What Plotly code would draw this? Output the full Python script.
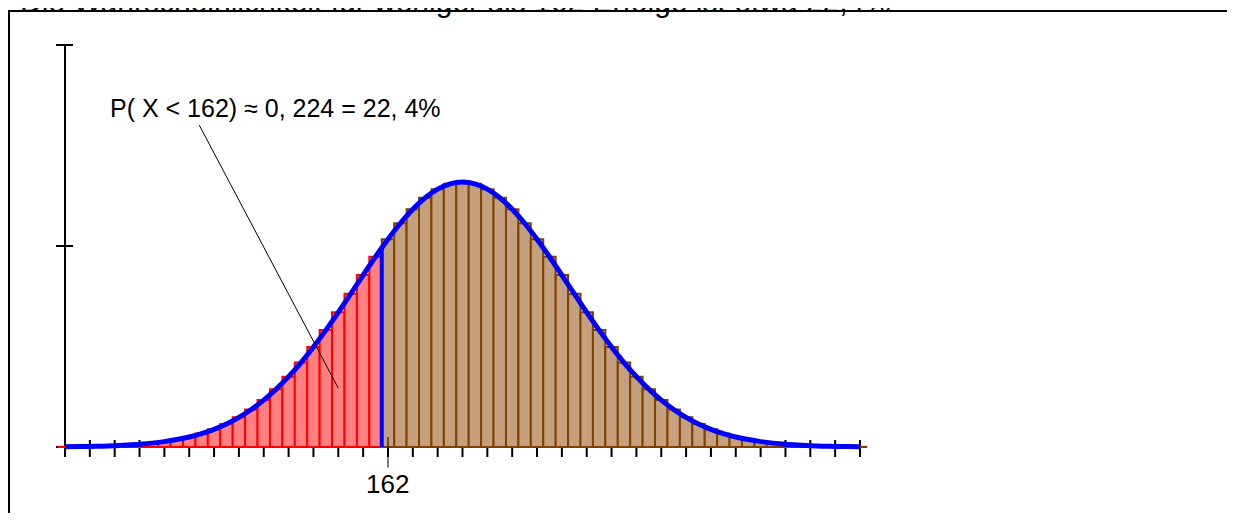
import plotly.graph_objects as go

# ---------------- data ----------------
k_values = list(range(136, 201))
probabilities = [
    0.00004, 0.00007, 0.00010, 0.00015, 0.00023, 0.00034, 0.00048, 0.00068,
    0.00094, 0.00130, 0.00176, 0.00235, 0.00310, 0.00404, 0.00519, 0.00657,
    0.00821, 0.01013, 0.01232, 0.01479, 0.01752, 0.02047, 0.02359, 0.02683,
    0.03010, 0.03331, 0.03637, 0.03918, 0.04164, 0.04366, 0.04516, 0.04609,
    0.04640, 0.04609, 0.04516, 0.04366, 0.04164, 0.03918, 0.03637, 0.03331,
    0.03010, 0.02683, 0.02359, 0.02047, 0.01752, 0.01479, 0.01232, 0.01013,
    0.00821, 0.00657, 0.00519, 0.00404, 0.00310, 0.00235, 0.00176, 0.00130,
    0.00094, 0.00068, 0.00048, 0.00034, 0.00023, 0.00015, 0.00010, 0.00007,
    0.00004,
]
split_k = 162
curve_at_split = 0.0349
x_ticks = list(range(136, 201, 2))
y_ticks = [0.0352, 0.0704]
title_text = "Die Wahrscheinlichkeit für weniger als 162 Erfolge ist etwa 22,4%"
formula_text = "P( X < 162) ≈ 0, 224 = 22, 4%"
formula_pointer = (158.0, 0.0103)
formula_line_start = (146.8, 0.0564)

# ---------------- layout geometry ----------------
OFF = 8                       # page body margin
W, H = 1235 - OFF, 505
ORIGIN_X, ORIGIN_Y = 65 - OFF, 447 - OFF      # pixel of (136, 0)
px_per_x = 795 / 64          # 136..200 spans 795 px
px_per_y = 402 / 0.0704      # 0..0.0704 spans 402 px
ML, MT = 32, 22
PLOT_RIGHT, PLOT_BOTTOM = 877, 462
MR, MB = W - PLOT_RIGHT, H - PLOT_BOTTOM
PW, PH = PLOT_RIGHT - ML, PLOT_BOTTOM - MT
x_min = 136 - (ORIGIN_X - ML) / px_per_x
x_max = x_min + PW / px_per_x
y_min = -(PLOT_BOTTOM - ORIGIN_Y) / px_per_y
y_max = y_min + PH / px_per_y

def paper_x(px):
    return (px - OFF - ML) / PW

def paper_y(py):
    return (PLOT_BOTTOM - (py - OFF)) / PH

def data_x(px):
    return 136 + (px - OFF - ORIGIN_X) / px_per_x

def data_y(py):
    return (ORIGIN_Y - (py - OFF)) / px_per_y

FONT = "Liberation Sans, Arial, sans-serif"

red_k = [k for k in k_values if k < split_k]
red_p = [p for k, p in zip(k_values, probabilities) if k < split_k]
brown_k = [k for k in k_values if k >= split_k]
brown_p = [p for k, p in zip(k_values, probabilities) if k >= split_k]

fig = go.Figure()
fig.add_trace(go.Bar(x=red_k, y=red_p, width=1,
                     marker=dict(color="#ff8080", line=dict(color="#ff0000", width=2)),
                     hoverinfo="skip"))
fig.add_trace(go.Bar(x=brown_k, y=brown_p, width=1,
                     marker=dict(color="#c4a07e", line=dict(color="#804000", width=2)),
                     hoverinfo="skip"))
fig.add_trace(go.Scatter(x=k_values, y=probabilities, mode="lines",
                         line=dict(color="#0000ff", width=5, shape="spline"),
                         hoverinfo="skip"))
fig.add_trace(go.Scatter(x=[split_k - 0.5, split_k - 0.5], y=[0, curve_at_split],
                         mode="lines", line=dict(color="#0000ff", width=4),
                         hoverinfo="skip"))

shapes = []
# x axis line
shapes.append(dict(type="line", xref="x", yref="y", x0=136, x1=200, y0=0, y1=0,
                   line=dict(color="black", width=2), layer="below"))
shapes.append(dict(type="line", xref="x", yref="y", xsizemode="pixel", xanchor=136,
                   x0=-9, x1=0, y0=0, y1=0, line=dict(color="black", width=2), layer="below"))
# y axis line
shapes.append(dict(type="line", xref="x", yref="y", x0=136, x1=136,
                   y0=-10 / px_per_y, y1=y_ticks[-1],
                   line=dict(color="black", width=2), layer="below"))
for t in x_ticks:
    shapes.append(dict(type="line", xref="x", yref="y", ysizemode="pixel", yanchor=0,
                       x0=t, x1=t, y0=-10, y1=7, line=dict(color="black", width=2),
                       layer="below"))
for t in y_ticks:
    shapes.append(dict(type="line", xref="x", yref="y", xsizemode="pixel", xanchor=136,
                       x0=-9, x1=8, y0=t, y1=t, line=dict(color="black", width=2),
                       layer="below"))
# pointer line of the formula
shapes.append(dict(type="line", xref="x", yref="y",
                   x0=formula_line_start[0], y0=formula_line_start[1],
                   x1=formula_pointer[0], y1=formula_pointer[1],
                   line=dict(color="black", width=1)))
# frame
shapes.append(dict(type="rect", xref="paper", yref="paper",
                   x0=paper_x(9), x1=paper_x(1300), y0=paper_y(11), y1=paper_y(600),
                   line=dict(color="black", width=2), fillcolor="rgba(0,0,0,0)"))

annotations = [
    dict(text=title_text, xref="paper", yref="paper", x=paper_x(18), y=paper_y(2),
         xanchor="left", yanchor="middle", showarrow=False,
         font=dict(family=FONT, size=30, color="black")),
    dict(text=formula_text, xref="x", yref="y",
         x=data_x(108), y=data_y(108),
         xanchor="left", yanchor="middle", showarrow=False,
         font=dict(family=FONT, size=25, color="black")),
    dict(text=str(split_k), xref="x", yref="y", x=split_k, y=0, yshift=10,
         showarrow=True, arrowhead=0, arrowwidth=1, arrowcolor="black",
         ax=0, ay=47, font=dict(family=FONT, size=26, color="black")),
]

fig.update_layout(
    width=W, height=H,
    margin=dict(l=ML, r=MR, t=MT, b=MB),
    paper_bgcolor="white", plot_bgcolor="white",
    showlegend=False, barmode="overlay",
    xaxis=dict(range=[x_min, x_max], visible=False, fixedrange=True),
    yaxis=dict(range=[y_min, y_max], visible=False, fixedrange=True),
    shapes=shapes, annotations=annotations,
)

fig.write_html("out.html", config={"displayModeBar": False})
